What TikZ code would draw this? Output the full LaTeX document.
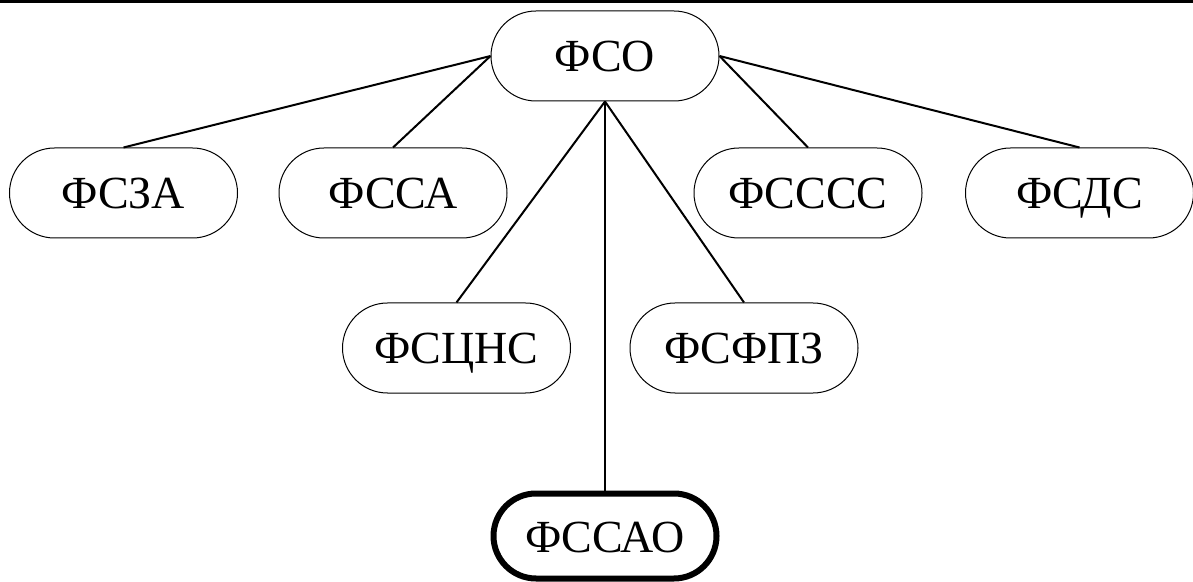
\documentclass[tikz,border=0pt]{standalone}
\usepackage{fontspec}
\setmainfont{Liberation Serif}
\usetikzlibrary{positioning}

\begin{document}
\begin{tikzpicture}[x=0.5pt,y=-0.5pt,
  unit/.style={draw, line width=0.5pt, rounded corners=22.5pt, minimum width=114pt,
    minimum height=45pt, inner sep=0pt, text height=16pt, text depth=0pt,
    font=\fontsize{23}{28}\selectfont},
  target/.style={unit, line width=3pt, minimum width=111.5pt, minimum height=42.5pt, rounded corners=21.25pt}]
  \useasboundingbox (0,0) rectangle (1193,582);
  \draw[line width=1.5pt] (0,1.5) -- (1193,1.5);
  \node[unit] (fso) at (605,56) {ФСО};
  \node[unit] (fsza) at (123.5,193) {ФСЗА};
  \node[unit] (fssa) at (393,193) {ФССА};
  \node[unit] (fssss) at (808,193) {ФСССС};
  \node[unit] (fsds) at (1079.5,193) {ФСДС};
  \node[unit] (fscns) at (456.5,348) {ФСЦНС};
  \node[unit] (fsfpz) at (744,348) {ФСФПЗ};
  \node[target] (fssao) at (605,536) {ФССАО};
  \path[line width=1pt]
  (fso.west) edge (fsza.north)
  edge (fssa.north)
  (fso.east) edge (fssss.north)
  edge (fsds.north)
  (fso.south) edge (fscns.north)
  edge (fsfpz.north)
  edge (fssao.north);
\end{tikzpicture}
\end{document}
